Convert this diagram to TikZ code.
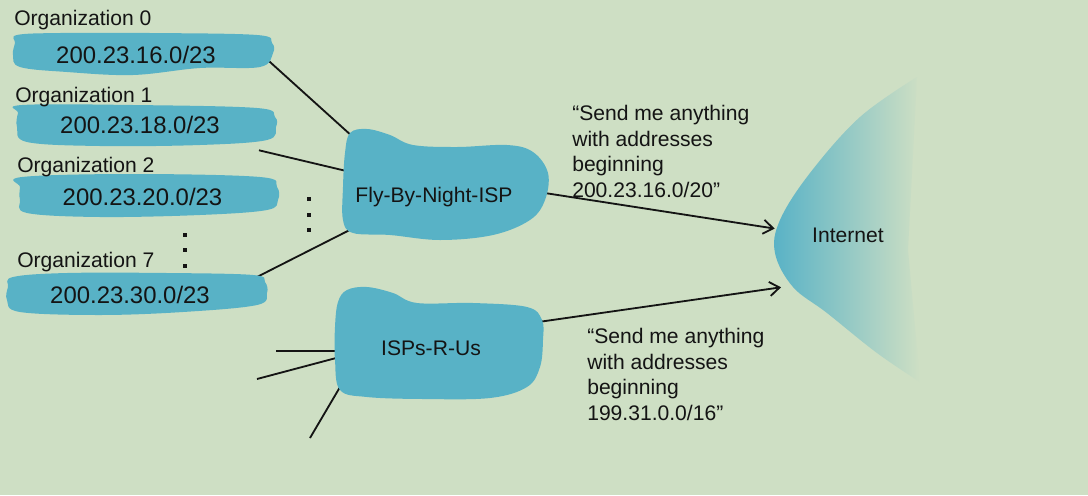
\documentclass[tikz,border=0pt]{standalone}
\usepackage{fontspec}
\setmainfont{Liberation Sans}
\usetikzlibrary{arrows.meta}
\definecolor{slidebg}{HTML}{CEDFC4}
\definecolor{blobteal}{HTML}{58B2C6}
\definecolor{inkdark}{HTML}{141414}
\pgfdeclarelayer{back}
\pgfdeclarelayer{links}
\pgfsetlayers{back,links,main}
\begin{document}
\begin{tikzpicture}[x=0.025cm,y=-0.025cm,
    blob/.style={fill=blobteal},
    ispbox/.style={inner sep=0pt,text=inkdark,font=\fontsize{15}{18}\selectfont},
    ip/.style={inner sep=0pt,text=inkdark,font=\fontsize{17}{20}\selectfont},
    orgtag/.style={anchor=base west,inner sep=0pt,text=inkdark,font=\fontsize{15}{18}\selectfont},
    note/.style={anchor=north west,align=left,inner sep=0pt,text=inkdark,font=\fontsize{15}{18.2}\selectfont},
    link/.style={inkdark,line width=1.3pt},
    arr/.style={link,-{Straight Barb[length=7pt,width=10pt]}}]
  \begin{pgfonlayer}{back}
    \fill[slidebg] (0,0) rectangle (1088,495);
    \shade[left color=blobteal,middle color=blobteal!50!slidebg,right color=slidebg]
      plot[smooth,tension=0.6] coordinates {(917,77) (860,117) (810,173) (780,220) (775,253) (793,287) (827,313) (877,353) (920,382)}
      -- (908,250) -- cycle;
  \end{pgfonlayer}
  \fill[blob] plot[smooth cycle,tension=0.6] coordinates {(15,43) (17,35) (60,33) (150,33) (257,35) (272,43) (273,53) (260,67) (200,68) (133,75) (67,72) (20,67) (13,55)};
  \fill[blob] plot[smooth cycle,tension=0.6] coordinates {(18,113) (22,105) (133,105) (257,108) (275,117) (276,127) (267,140) (200,145) (100,146) (27,142) (17,127)};
  \fill[blob] plot[smooth cycle,tension=0.6] coordinates {(20,187) (22,177) (133,174) (260,177) (277,187) (278,200) (267,210) (200,215) (100,217) (27,213) (20,200)};
  \fill[blob] plot[smooth cycle,tension=0.6] coordinates {(8,287) (13,277) (67,273) (167,273) (253,275) (265,282) (267,293) (257,305) (183,312) (100,315) (20,312) (7,300)};
  \fill[blob] plot[smooth cycle,tension=0.6] coordinates {(350,133) (367,129) (390,135) (413,145) (457,147) (507,145) (533,152) (548,173) (545,200) (530,220) (493,235) (440,240) (390,235) (353,233) (343,220) (343,187) (345,153)};
  \fill[blob] plot[smooth cycle,tension=0.6] coordinates {(347,290) (367,287) (393,293) (417,303) (473,303) (527,307) (542,320) (543,340) (540,367) (527,387) (490,398) (423,399) (367,397) (340,390) (335,360) (335,327) (338,302)};

  \node[orgtag] (lab0) at (14,25) {Organization 0};
  \node[orgtag] (lab1) at (15,102) {Organization 1};
  \node[orgtag] (lab2) at (17,172.7) {Organization 2};
  \node[orgtag] (lab7) at (17,267) {Organization 7};
  \node[ip,minimum width=5.95cm,minimum height=0.7cm] (org0) at (136,55) {200.23.16.0/23};
  \node[ip,minimum width=6.25cm,minimum height=1.25cm] (org1) at (140,125) {200.23.18.0/23};
  \node[ip] (org2) at (142.5,197) {200.23.20.0/23};
  \node[ip,minimum width=5.75cm,minimum height=0.7cm] (org7) at (130,295) {200.23.30.0/23};
  \node[ispbox,minimum width=4.15cm,minimum height=1.85cm] (fly) at (434,197.5) {Fly-By-Night-ISP};
  \node[ispbox,minimum width=4.25cm,minimum height=2cm] (isp) at (431,348) {ISPs-R-Us};
  \node[ispbox,minimum width=3.65cm,minimum height=2.6cm] (inet) at (848,235) {Internet};
  \node[note] (adv1) at (572,105) {“Send me anything\\with addresses\\beginning\\200.23.16.0/20”};
  \node[note] (adv2) at (587,328) {“Send me anything\\with addresses\\beginning\\199.31.0.0/16”};
  \coordinate (in1) at (276,351);
  \coordinate (in2) at (257,379);
  \coordinate (in3) at (310,438);

  \begin{pgfonlayer}{links}
    \draw[link] (org0.3) -- (fly.146);
    \draw[link] (org1.-12) -- (fly.163);
    \draw[link] (org7.6) -- (fly.201);
    \draw[link] (in1) -- (isp.182);
    \draw[link] (in2) -- (isp.185);
    \draw[link] (in3) -- (isp.199);
    \draw[arr] (fly.6) -- (inet.175);
    \draw[arr] (isp.15) -- (inet.218);
  \end{pgfonlayer}

  \foreach \y in {235,250,266} \fill[inkdark] (183,\y-2) rectangle ++(4,4);
  \foreach \y in {199,215,230} \fill[inkdark] (307,\y-2) rectangle ++(4,4);
\end{tikzpicture}
\end{document}
